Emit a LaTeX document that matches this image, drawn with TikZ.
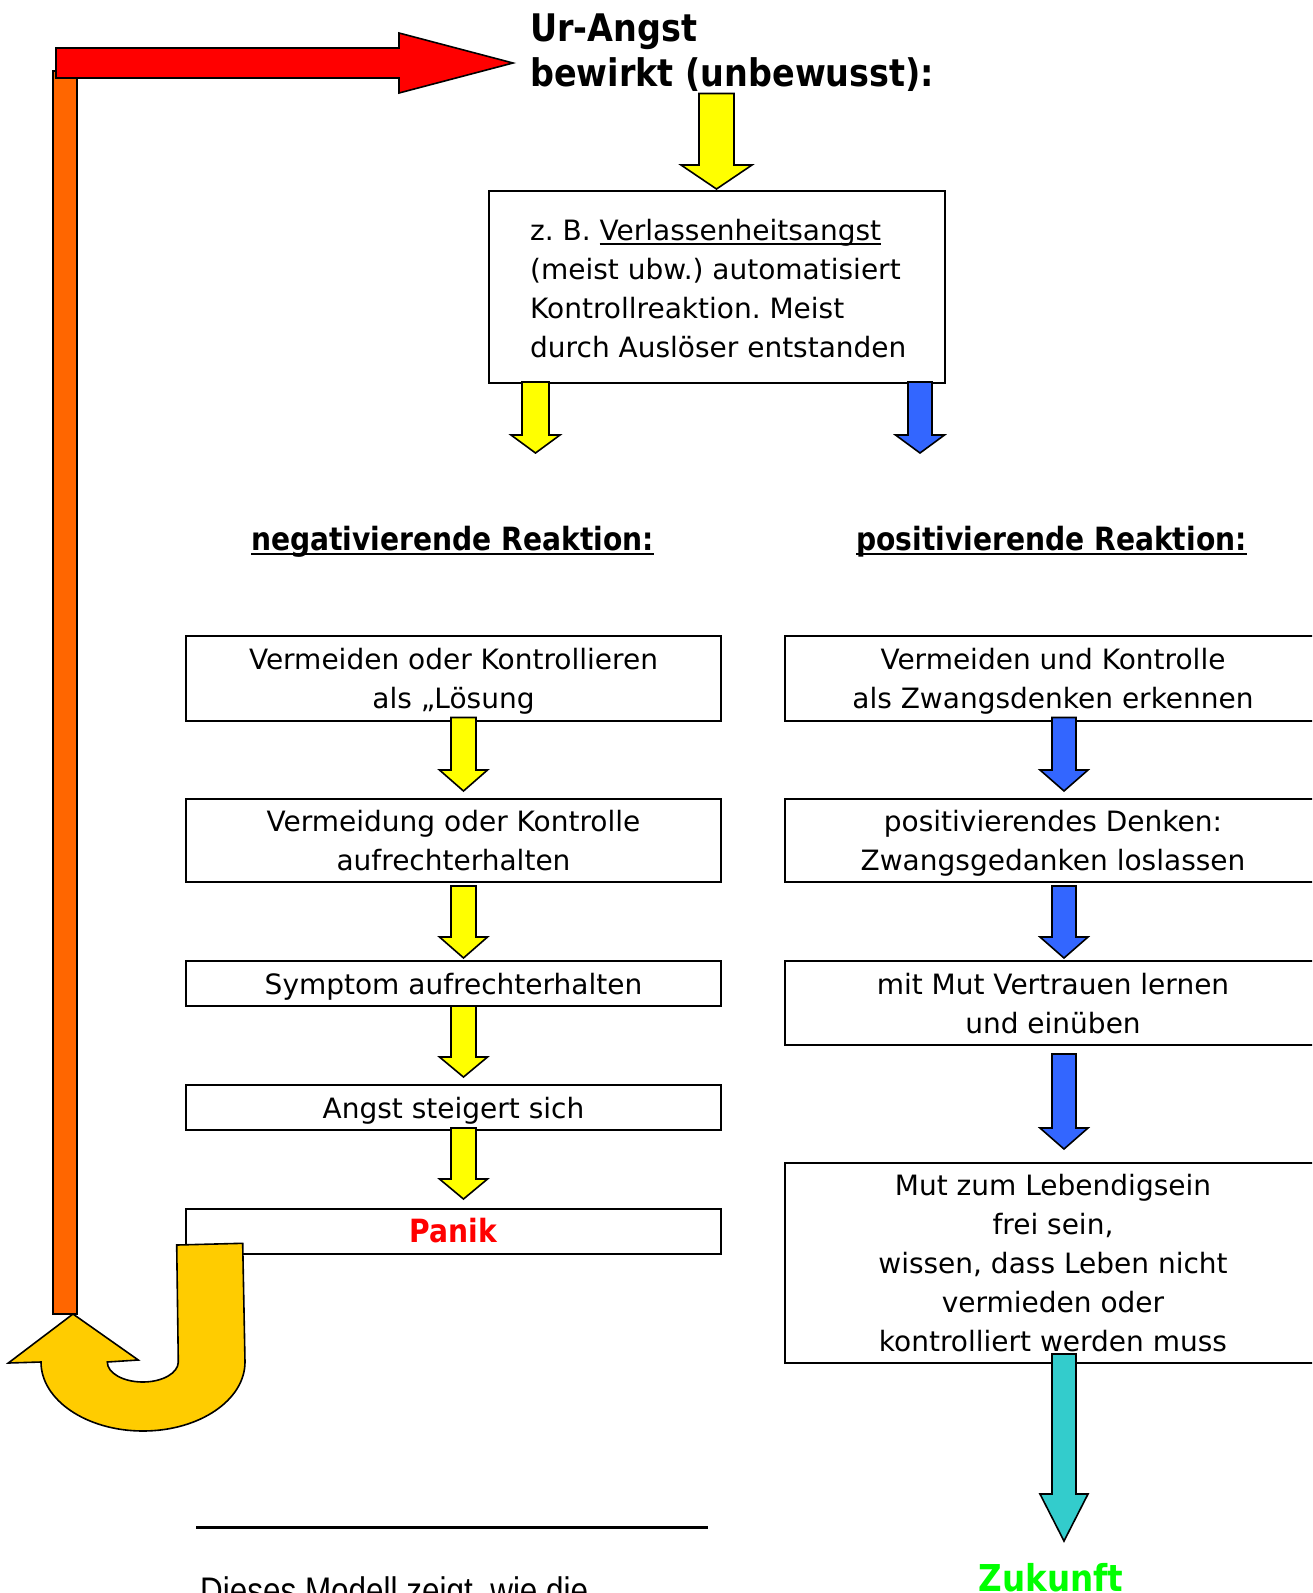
\documentclass[tikz,border=0pt]{standalone}
\usepackage{fontspec}
\setmainfont{DejaVu Sans}
\newfontfamily\headfam{DejaVu Sans}[FakeStretch=0.88]
\newfontfamily\notefam{Liberation Sans}[FakeStretch=0.85]
\frenchspacing

\definecolor{arrowred}{HTML}{FF0000}
\definecolor{barorange}{HTML}{FF6600}
\definecolor{ylw}{HTML}{FFFF00}
\definecolor{blu}{HTML}{3366FF}
\definecolor{tealc}{HTML}{33CCCC}
\definecolor{gold}{HTML}{FFCC00}
\definecolor{grn}{HTML}{00FF00}

% one text line with fixed height/depth, so every box centres its lines alike
\newcommand\bl[1]{\raisebox{0pt}[24pt][3pt]{#1}}
% underlined word: #1 depth of the rule, #2 its thickness, #3 the text
\newcommand\ulword[3]{\setbox0=\hbox{#3}\rlap{\rule[-#1]{\wd0}{#2}}\box0}
% downward block arrow: fill, centre x, top y, head y, tip y, half shaft, half head
\newcommand\dblock[7]{%
  \filldraw[blk, fill=#1] ({#2-#6},#3) -- ({#2+#6},#3) -- ({#2+#6},#4) -- ({#2+#7},#4)
    -- (#2,#5) -- ({#2-#7},#4) -- ({#2-#6},#4) -- cycle;}

\tikzset{
  box/.style={draw, line width=2pt, inner sep=2pt, align=center,
    font=\fontsize{28}{39}\selectfont},
  blk/.style={draw, line width=1.6pt, line join=miter},
  head/.style={inner sep=0pt, font=\headfam\bfseries\fontsize{32}{39}\selectfont},
}

\begin{document}
\begin{tikzpicture}[x=1pt, y=-1pt]
\useasboundingbox (0,0) rectangle (1312,1593);
\fill[white] (0,0) rectangle (1312,1593);
\clip (0,0) rectangle (1312,1593);

% feedback loop: orange riser and red arrow back to the top
\filldraw[blk, fill=barorange] (53,71) rectangle (77,1314);
\filldraw[blk, fill=arrowred] (56,48) -- (399,48) -- (399,33) -- (513,63)
  -- (399,93) -- (399,78) -- (56,78) -- cycle;

% heading
\node[anchor=base west, inner sep=0pt, font=\headfam\bfseries\fontsize{38}{45}\selectfont]
  (title1) at (530,41) {Ur-Angst};
\node[anchor=base west, inner sep=0pt, font=\headfam\bfseries\fontsize{38}{45}\selectfont]
  (title2) at (530,86) {bewirkt (unbewusst):};

% cause box
\node[box, anchor=north west, minimum width=456pt, minimum height=192pt] (topbox) at (488,190) {};
\node[anchor=west, align=left, inner sep=0pt, font=\fontsize{28}{39}\selectfont] (toptext) at (530,288.5)
  {\bl{z. B. \ulword{4.5pt}{1.8pt}{Verlassenheitsangst}}\\\bl{(meist ubw.) automatisiert}\\
   \bl{Kontrollreaktion. Meist}\\\bl{durch Auslöser entstanden}};
\dblock{ylw}{716.5}{93.5}{165}{189}{17.5}{35.5}
\dblock{ylw}{535.5}{382}{435}{453}{13.5}{24.5}
\dblock{blu}{920}{382}{435}{453}{12}{24.5}

% column headings
\node[head, anchor=base] (neg) at (452.5,550) {\ulword{5pt}{2.2pt}{negativierende Reaktion:}};
\node[head, anchor=base] (pos) at (1051.5,550) {\ulword{5pt}{2.2pt}{positivierende Reaktion:}};

% negative chain
\node[box, anchor=north west, minimum width=535pt, minimum height=85pt] (L1) at (185,635)
  {\bl{Vermeiden oder Kontrollieren}\\\bl{als „Lösung}};
\node[box, anchor=north west, minimum width=535pt, minimum height=83pt] (L2) at (185,798)
  {\bl{Vermeidung oder Kontrolle}\\\bl{aufrechterhalten}};
\node[box, anchor=north west, minimum width=535pt, minimum height=45pt] (L3) at (185,960)
  {\bl{Symptom aufrechterhalten}};
\node[box, anchor=north west, minimum width=535pt, minimum height=45pt] (L4) at (185,1084)
  {\bl{Angst steigert sich}};
\node[box, anchor=north west, minimum width=535pt, minimum height=45pt] (L5) at (185,1208)
  {\bl{\headfam\bfseries\fontsize{32}{39}\selectfont\color{arrowred}Panik}};
\dblock{ylw}{463.5}{717.5}{770}{791}{12.5}{24}
\dblock{ylw}{463.5}{886}{937}{958}{12.5}{24}
\dblock{ylw}{463.5}{1006}{1057}{1077}{12.5}{24}
\dblock{ylw}{463.5}{1128}{1179}{1199}{12.5}{24}

% positive chain
\node[box, anchor=north west, minimum width=537pt, minimum height=85pt] (R1) at (783.5,635)
  {\bl{Vermeiden und Kontrolle}\\\bl{als Zwangsdenken erkennen}};
\node[box, anchor=north west, minimum width=537pt, minimum height=83pt] (R2) at (783.5,798)
  {\bl{positivierendes Denken:}\\\bl{Zwangsgedanken loslassen}};
\node[box, anchor=north west, minimum width=537pt, minimum height=84pt] (R3) at (783.5,960)
  {\bl{mit Mut Vertrauen lernen}\\\bl{und einüben}};
\node[box, anchor=north west, minimum width=537pt, minimum height=200pt] (R4) at (783.5,1162)
  {\bl{Mut zum Lebendigsein}\\\bl{frei sein,}\\\bl{wissen, dass Leben nicht}\\
   \bl{vermieden oder}\\\bl{kontrolliert werden muss}};
\dblock{blu}{1064}{717.5}{770}{791}{12}{24}
\dblock{blu}{1064}{886}{937}{958}{12}{24}
\dblock{blu}{1064}{1054}{1128}{1149}{12}{24}
\dblock{tealc}{1064}{1354}{1494}{1541}{12}{24}

% U-turn arrow from the panic box back into the loop
\filldraw[blk, fill=gold] (176.7,1245) -- (242.7,1243.3) -- (245,1362)
  .. controls (245,1400.1) and (199.3,1431) .. (143,1431)
  .. controls (86.7,1431) and (41,1400.1) .. (41,1362)
  -- (8.3,1363) -- (73,1314) -- (138.3,1360) -- (107.3,1362)
  .. controls (107.3,1373) and (123.2,1382) .. (142.8,1382)
  .. controls (162.4,1382) and (178.3,1373) .. (178.3,1362) -- cycle;

% footnote rule and text
\draw[line width=2.5pt] (196,1527.5) -- (708,1527.5);
\node[anchor=base west, inner sep=0pt, font=\notefam\fontsize{37}{44}\selectfont] (note) at (200,1603)
  {Dieses Modell zeigt, wie die};
\node[anchor=base, inner sep=0pt, font=\headfam\bfseries\fontsize{37}{44}\selectfont, text=grn] (future) at (1051,1591)
  {Zukunft};
\end{tikzpicture}
\end{document}
